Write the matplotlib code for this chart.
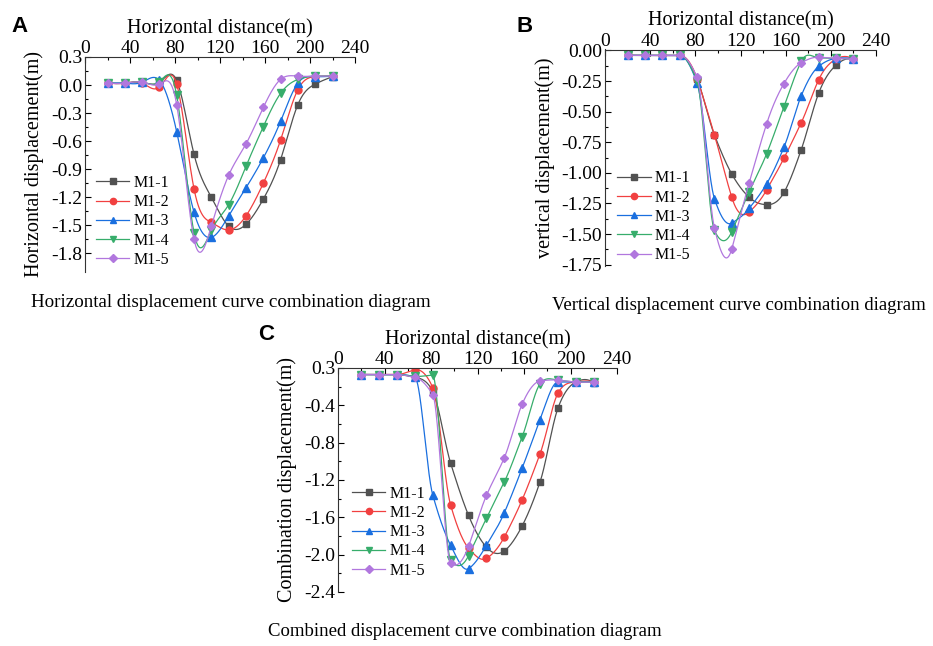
import numpy as np
import matplotlib
matplotlib.use('Agg')
import matplotlib.pyplot as plt
from matplotlib import font_manager

# 找一个可用的 Times 类衬线字体
installed = {f.name for f in font_manager.fontManager.ttflist}
serif = [n for n in ['Liberation Serif', 'Tinos', 'Nimbus Roman', 'DejaVu Serif'] if n in installed]
plt.rcParams['font.family'] = serif + ['DejaVu Serif']
plt.rcParams['axes.unicode_minus'] = False

# 水平距离 (m)
distance = [20, 35.4, 50.8, 66.2, 81.5, 96.9, 112.3, 127.7, 143.1, 158.5, 173.8, 189.2, 204.6, 220]
names = ['M1-1', 'M1-2', 'M1-3', 'M1-4', 'M1-5']

# A 水平位移 (m)
horiz_m1_1 = [0.02, 0.02, 0.03, 0.03, 0.05, -0.74, -1.20, -1.51, -1.49, -1.22, -0.80, -0.21, 0.01, 0.09]
horiz_m1_2 = [0.02, 0.02, 0.02, -0.02, 0.01, -1.11, -1.47, -1.55, -1.40, -1.05, -0.59, -0.05, 0.09, 0.095]
horiz_m1_3 = [0.02, 0.02, 0.03, 0.05, -0.50, -1.36, -1.63, -1.40, -1.10, -0.78, -0.39, 0.02, 0.09, 0.095]
horiz_m1_4 = [0.02, 0.02, 0.03, 0.035, -0.11, -1.58, -1.555, -1.28, -0.87, -0.445, -0.09, 0.06, 0.095, 0.095]
horiz_m1_5 = [0.02, 0.02, 0.03, 0.01, -0.21, -1.65, -1.51, -0.965, -0.63, -0.24, 0.06, 0.095, 0.095, 0.095]

# B 竖向位移 (m)
vert_m1_1 = [-0.04, -0.04, -0.04, -0.04, -0.23, -0.69, -1.01, -1.20, -1.26, -1.16, -0.81, -0.35, -0.12, -0.07]
vert_m1_2 = [-0.04, -0.04, -0.04, -0.04, -0.23, -0.69, -1.20, -1.32, -1.14, -0.88, -0.59, -0.24, -0.07, -0.07]
vert_m1_3 = [-0.04, -0.04, -0.04, -0.04, -0.265, -1.21, -1.41, -1.29, -1.09, -0.79, -0.37, -0.13, -0.065, -0.07]
vert_m1_4 = [-0.04, -0.04, -0.04, -0.04, -0.25, -1.47, -1.48, -1.155, -0.845, -0.46, -0.09, -0.06, -0.065, -0.07]
vert_m1_5 = [-0.04, -0.04, -0.04, -0.04, -0.22, -1.45, -1.62, -1.08, -0.60, -0.27, -0.10, -0.055, -0.065, -0.07]

# C 合位移 (m)
comb_m1_1 = [-0.07, -0.07, -0.07, -0.10, -0.25, -1.02, -1.58, -1.92, -1.96, -1.69, -1.22, -0.43, -0.15, -0.16]
comb_m1_2 = [-0.07, -0.07, -0.07, -0.02, -0.21, -1.47, -1.93, -2.04, -1.81, -1.41, -0.92, -0.27, -0.15, -0.15]
comb_m1_3 = [-0.07, -0.07, -0.07, -0.10, -1.36, -1.90, -2.15, -1.90, -1.55, -1.07, -0.555, -0.15, -0.15, -0.15]
comb_m1_4 = [-0.07, -0.07, -0.07, -0.09, -0.08, -2.06, -2.01, -1.61, -1.22, -0.735, -0.17, -0.13, -0.15, -0.15]
comb_m1_5 = [-0.07, -0.07, -0.07, -0.10, -0.285, -2.09, -1.91, -1.365, -0.96, -0.385, -0.14, -0.13, -0.15, -0.15]

x_ticks = [0, 40, 80, 120, 160, 200, 240]
a_yticks = [0.3, 0.0, -0.3, -0.6, -0.9, -1.2, -1.5, -1.8]
b_yticks = [0.0, -0.25, -0.5, -0.75, -1.0, -1.25, -1.5, -1.75]
c_yticks = [0.0, -0.4, -0.8, -1.2, -1.6, -2.0, -2.4]
c_ylabels = ['0.3', '-0.4', '-0.8', '-1.2', '-1.6', '-2.0', '-2.4']

colors = ['#515151', '#F14040', '#1A6FDF', '#37AD6B', '#B177DE']
markers = ['s', 'o', '^', 'v', 'D']
msizes = [4.5, 5, 5.5, 5.5, 4.5]


def natural(x, y):
    # 自然三次样条的各点斜率
    h = np.diff(x)
    m = len(x)
    A = np.zeros((m, m))
    r = np.zeros(m)
    A[0, 0] = 2 / h[0]
    A[0, 1] = 1 / h[0]
    r[0] = 3 * (y[1] - y[0]) / h[0] ** 2
    A[-1, -2] = 1 / h[-1]
    A[-1, -1] = 2 / h[-1]
    r[-1] = 3 * (y[-1] - y[-2]) / h[-1] ** 2
    for i in range(1, m - 1):
        A[i, i - 1] = 1 / h[i - 1]
        A[i, i] = 2 / h[i - 1] + 2 / h[i]
        A[i, i + 1] = 1 / h[i]
        r[i] = 3 * ((y[i] - y[i - 1]) / h[i - 1] ** 2 + (y[i + 1] - y[i]) / h[i] ** 2)
    return np.linalg.solve(A, r)


def akima(x, y):
    # Akima 斜率, 过冲较小
    s = np.diff(y) / np.diff(x)
    s = np.concatenate([[3 * s[0] - 2 * s[1], 2 * s[0] - s[1]], s,
                        [2 * s[-1] - s[-2], 3 * s[-1] - 2 * s[-2]]])
    d = np.zeros(len(x))
    for i in range(len(x)):
        w1 = abs(s[i + 3] - s[i + 2])
        w2 = abs(s[i + 1] - s[i])
        if w1 + w2 < 1e-12:
            d[i] = (s[i + 1] + s[i + 2]) / 2
        else:
            d[i] = (w1 * s[i + 1] + w2 * s[i + 2]) / (w1 + w2)
    return d


def smooth(x, y, method, n=800):
    # 只用于画平滑连线 (Hermite 插值)
    x = np.asarray(x, float)
    y = np.asarray(y, float)
    d = method(x, y)
    xs = np.linspace(x[0], x[-1], n)
    i = np.clip(np.searchsorted(x, xs) - 1, 0, len(x) - 2)
    h = x[i + 1] - x[i]
    t = (xs - x[i]) / h
    h00 = 2 * t ** 3 - 3 * t ** 2 + 1
    h10 = t ** 3 - 2 * t ** 2 + t
    h01 = -2 * t ** 3 + 3 * t ** 2
    h11 = t ** 3 - t ** 2
    return xs, h00 * y[i] + h10 * h * d[i] + h01 * y[i + 1] + h11 * h * d[i + 1]


def draw(ax, series, ylabel, ylim, yticks, ylabels, legend_anchor, method):
    for k, ys in enumerate(series):
        xs, ss = smooth(distance, ys, method)
        ax.plot(xs, ss, color=colors[k], lw=0.9)
        ax.plot(distance, ys, ls='none', marker=markers[k], ms=msizes[k],
                color=colors[k])
        # 图例用的线+点
        ax.plot([], [], color=colors[k], lw=0.9, marker=markers[k],
                ms=msizes[k] - 0.5, label=names[k])
    ax.set_xlim(0, 240)
    ax.set_ylim(*ylim)
    ax.xaxis.tick_top()
    ax.xaxis.set_label_position('top')
    ax.set_xticks(x_ticks)
    ax.set_xticks(np.arange(20, 240, 40), minor=True)
    ax.set_yticks(yticks)
    ax.set_yticklabels(ylabels)
    mid = [(yticks[i] + yticks[i + 1]) / 2 for i in range(len(yticks) - 1)]
    ax.set_yticks(mid, minor=True)
    ax.set_xlabel('Horizontal distance(m)', fontsize=14.5, labelpad=5)
    ax.set_ylabel(ylabel, fontsize=14.5, labelpad=5)
    ax.tick_params(which='both', direction='in', labelsize=14, pad=2,
                   top=True, bottom=False, left=True, right=False, width=0.8)
    ax.tick_params(axis='x', pad=0)
    ax.tick_params(which='major', length=4)
    ax.tick_params(which='minor', length=2)
    for s in ['right', 'bottom']:
        ax.spines[s].set_visible(False)
    for s in ['left', 'top']:
        ax.spines[s].set_linewidth(0.8)
        ax.spines[s].set_color('#333333')
    h, l = ax.get_legend_handles_labels()
    ax.legend(h, l, loc='lower left', bbox_to_anchor=legend_anchor, frameon=False,
              fontsize=11.5, handlelength=2.1, handletextpad=0.25,
              labelspacing=0.2, borderpad=0, borderaxespad=0)


fig = plt.figure(figsize=(9.33, 6.46), dpi=100)
W, H = 933.0, 646.0

axA = fig.add_axes([85 / W, 1 - 272 / H, 270 / W, 215 / H])
draw(axA, [horiz_m1_1, horiz_m1_2, horiz_m1_3, horiz_m1_4, horiz_m1_5],
     'Horizontal displacement(m)', (-2.0, 0.3), a_yticks,
     ['%.1f' % v for v in a_yticks], (0.04, 0.02), natural)

axB = fig.add_axes([605 / W, 1 - 266.5 / H, 271 / W, 217 / H])
draw(axB, [vert_m1_1, vert_m1_2, vert_m1_3, vert_m1_4, vert_m1_5],
     'vertical displacement(m)', (-1.765, 0.008), b_yticks,
     ['%.2f' % v for v in b_yticks], (0.045, 0.015), akima)

axC = fig.add_axes([338 / W, 1 - 592 / H, 279 / W, 224 / H])
draw(axC, [comb_m1_1, comb_m1_2, comb_m1_3, comb_m1_4, comb_m1_5],
     'Combination displacement(m)', (-2.4, 0.0), c_yticks, c_ylabels,
     (0.05, 0.06), akima)

# 面板字母
for txt, x, y in [('A', 20, 27), ('B', 525, 27), ('C', 266, 335)]:
    fig.text(x / W, 1 - y / H, txt, fontsize=16, fontweight='bold',
             family=['Liberation Sans', 'DejaVu Sans'], ha='center', va='center')

# 图下方说明
fig.text(231 / W, 1 - 302 / H, 'Horizontal displacement curve combination diagram',
         fontsize=13.7, ha='center', va='center')
fig.text(739 / W, 1 - 305 / H, 'Vertical displacement curve combination diagram',
         fontsize=13.5, ha='center', va='center')
fig.text(465 / W, 1 - 632 / H, 'Combined displacement curve combination diagram',
         fontsize=13.5, ha='center', va='center')

plt.savefig('out.png', dpi=100)
